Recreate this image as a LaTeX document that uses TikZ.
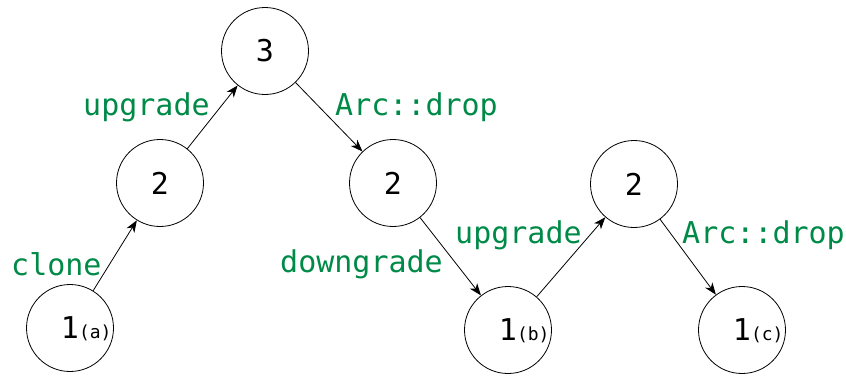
\documentclass[tikz,border=0pt]{standalone}
\usepackage{fontspec}
\setmonofont{DejaVu Sans Mono}
\usetikzlibrary{arrows.meta}
\definecolor{lblgreen}{RGB}{0,138,72}
\tikzset{
  cnode/.style={circle,draw,line width=0.8pt,minimum size=87pt,inner sep=0pt,
    font=\ttfamily\fontsize{30}{34}\selectfont},
  lbl/.style={anchor=base west,inner sep=0pt,text=lblgreen,
    font=\ttfamily\fontsize{30}{34}\selectfont},
  conn/.style={line width=0.8pt,-{Stealth[length=12pt,width=9pt,inset=3.5pt]}}
}
\newcommand{\subl}[1]{\rlap{\smash{\fontsize{18}{20}\selectfont(#1)}}}
\begin{document}
\begin{tikzpicture}[x=1pt,y=1pt]
\useasboundingbox (0,0) rectangle (846,376);
\node[cnode] (a) at (70,48) {1\subl{a}};
\node[cnode] (l2) at (160,193) {2};
\node[cnode] (t3) at (265,325) {3};
\node[cnode] (m2) at (393,193) {2};
\node[cnode] (b) at (508,46) {1\subl{b}};
\node[cnode] (r2) at (634,192) {2};
\node[cnode] (c) at (742,46) {1\subl{c}};
\draw[conn] (a) -- (l2);
\draw[conn] (l2) -- (t3);
\draw[conn] (t3) -- (m2);
\draw[conn] (m2) -- (b);
\draw[conn] (b) -- (r2);
\draw[conn] (r2) -- (c);
\node[lbl] (lclone) at (11,101) {clone};
\node[lbl] (lup1) at (83,261) {upgrade};
\node[lbl] (ldrop1) at (335,261) {Arc::drop};
\node[lbl] (ldown) at (280,104) {downgrade};
\node[lbl] (lup2) at (455,133) {upgrade};
\node[lbl] (ldrop2) at (682,133) {Arc::drop};
\end{tikzpicture}
\end{document}
